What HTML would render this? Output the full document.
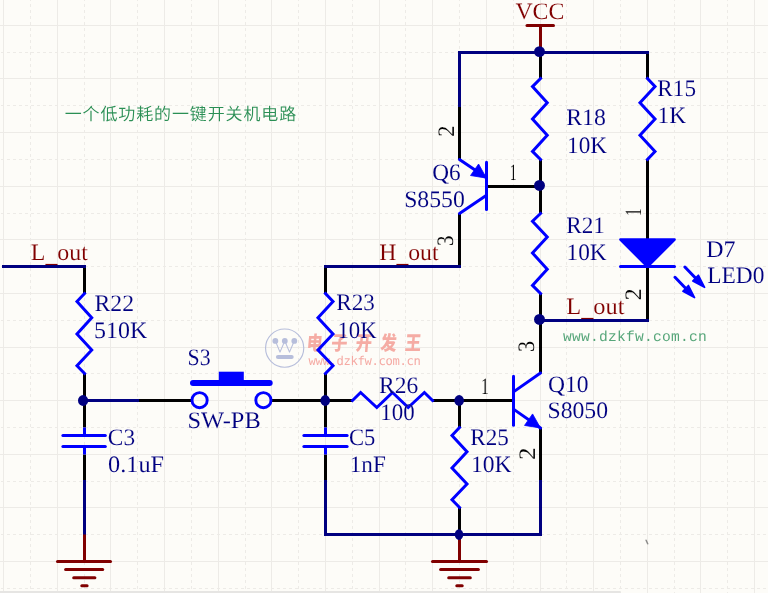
<!DOCTYPE html>
<html lang="zh">
<head>
<meta charset="utf-8">
<title>一个低功耗的一键开关机电路</title>
<style>
html,body{margin:0;padding:0;background:#fdfcf8;}
body{width:768px;height:593px;overflow:hidden;}
svg{display:block;text-rendering:geometricPrecision;font-family:"Liberation Serif","Noto Serif CJK SC",serif;}
</style>
</head>
<body>
<svg width="768" height="593" viewBox="0 0 768 593">
<defs><filter id="soft" filterUnits="userSpaceOnUse" x="0" y="0" width="768" height="593"><feGaussianBlur stdDeviation="0.38"/></filter></defs>
<rect width="768" height="593" fill="#fdfcf8"/>
<g shape-rendering="crispEdges" stroke="#edebe7" stroke-width="1">
<line x1="3.5" y1="0" x2="3.5" y2="593"/>
<line x1="30.5" y1="-2" x2="30.5" y2="593" stroke-dasharray="3 3"/>
<line x1="57.5" y1="0" x2="57.5" y2="593"/>
<line x1="84.5" y1="-2" x2="84.5" y2="593" stroke-dasharray="3 3"/>
<line x1="110.5" y1="0" x2="110.5" y2="593"/>
<line x1="137.5" y1="-2" x2="137.5" y2="593" stroke-dasharray="3 3"/>
<line x1="164.5" y1="0" x2="164.5" y2="593"/>
<line x1="191.5" y1="-2" x2="191.5" y2="593" stroke-dasharray="3 3"/>
<line x1="218.5" y1="0" x2="218.5" y2="593"/>
<line x1="245.5" y1="-2" x2="245.5" y2="593" stroke-dasharray="3 3"/>
<line x1="271.5" y1="0" x2="271.5" y2="593"/>
<line x1="298.5" y1="-2" x2="298.5" y2="593" stroke-dasharray="3 3"/>
<line x1="325.5" y1="0" x2="325.5" y2="593"/>
<line x1="352.5" y1="-2" x2="352.5" y2="593" stroke-dasharray="3 3"/>
<line x1="379.5" y1="0" x2="379.5" y2="593"/>
<line x1="405.5" y1="-2" x2="405.5" y2="593" stroke-dasharray="3 3"/>
<line x1="432.5" y1="0" x2="432.5" y2="593"/>
<line x1="459.5" y1="-2" x2="459.5" y2="593" stroke-dasharray="3 3"/>
<line x1="486.5" y1="0" x2="486.5" y2="593"/>
<line x1="513.5" y1="-2" x2="513.5" y2="593" stroke-dasharray="3 3"/>
<line x1="540.5" y1="0" x2="540.5" y2="593"/>
<line x1="566.5" y1="-2" x2="566.5" y2="593" stroke-dasharray="3 3"/>
<line x1="593.5" y1="0" x2="593.5" y2="593"/>
<line x1="620.5" y1="-2" x2="620.5" y2="593" stroke-dasharray="3 3"/>
<line x1="647.5" y1="0" x2="647.5" y2="593"/>
<line x1="674.5" y1="-2" x2="674.5" y2="593" stroke-dasharray="3 3"/>
<line x1="700.5" y1="0" x2="700.5" y2="593"/>
<line x1="727.5" y1="-2" x2="727.5" y2="593" stroke-dasharray="3 3"/>
<line x1="754.5" y1="0" x2="754.5" y2="593"/>
<line x1="0" y1="25.5" x2="768" y2="25.5"/>
<line x1="1" y1="52.5" x2="768" y2="52.5" stroke-dasharray="3 3"/>
<line x1="0" y1="78.5" x2="768" y2="78.5"/>
<line x1="1" y1="105.5" x2="768" y2="105.5" stroke-dasharray="3 3"/>
<line x1="0" y1="132.5" x2="768" y2="132.5"/>
<line x1="1" y1="159.5" x2="768" y2="159.5" stroke-dasharray="3 3"/>
<line x1="0" y1="186.5" x2="768" y2="186.5"/>
<line x1="1" y1="213.5" x2="768" y2="213.5" stroke-dasharray="3 3"/>
<line x1="0" y1="239.5" x2="768" y2="239.5"/>
<line x1="1" y1="266.5" x2="768" y2="266.5" stroke-dasharray="3 3"/>
<line x1="0" y1="293.5" x2="768" y2="293.5"/>
<line x1="1" y1="320.5" x2="768" y2="320.5" stroke-dasharray="3 3"/>
<line x1="0" y1="347.5" x2="768" y2="347.5"/>
<line x1="1" y1="373.5" x2="768" y2="373.5" stroke-dasharray="3 3"/>
<line x1="0" y1="400.5" x2="768" y2="400.5"/>
<line x1="1" y1="427.5" x2="768" y2="427.5" stroke-dasharray="3 3"/>
<line x1="0" y1="454.5" x2="768" y2="454.5"/>
<line x1="1" y1="481.5" x2="768" y2="481.5" stroke-dasharray="3 3"/>
<line x1="0" y1="507.5" x2="768" y2="507.5"/>
<line x1="1" y1="534.5" x2="768" y2="534.5" stroke-dasharray="3 3"/>
<line x1="0" y1="561.5" x2="768" y2="561.5"/>
<line x1="1" y1="588.5" x2="768" y2="588.5" stroke-dasharray="3 3"/>
</g>
<rect x="0" y="591" width="620.7" height="2" fill="#e6e5e3"/>
<line x1="646.1" y1="540.2" x2="647.7" y2="543.7" stroke="#8c8c8a" stroke-width="1.5" stroke-linecap="round"/>
<g filter="url(#soft)">
<g id="wm">
<circle cx="284.65" cy="348.1" r="19.1" fill="none" stroke="#b7bedb" stroke-width="1.15"/>
<polyline points="275.35,340.9 280,352.1 284.8,340.9 289.5,352.1 294.3,340.9" fill="none" stroke="#b7bedb" stroke-width="1.1" stroke-linejoin="round" stroke-linecap="round"/>
<circle cx="275.35" cy="340.9" r="2.9" fill="#b7bedb"/><circle cx="284.8" cy="340.9" r="2.9" fill="#b7bedb"/><circle cx="294.3" cy="340.9" r="2.9" fill="#b7bedb"/>
<line x1="278.0" y1="357" x2="291.6" y2="357" stroke="#b7bedb" stroke-width="4.2" stroke-linecap="round"/>
<text transform="translate(306.2,349.6) scale(0.92,1.12) skewX(-6)" fill="#f5aca4" font-family="'Liberation Sans','Noto Sans CJK SC',sans-serif" font-weight="900" font-size="17.5" letter-spacing="9.2">电子开发王</text>
<text x="308.6 315.6 322.6 329.6 336.6 343.6 350.5 357.5 364.5 371.5 378.5 385.5 392.5 399.5 406.5 413.5" y="365.3" fill="#f5aaa4" font-family="'DejaVu Sans Mono','Liberation Mono',monospace" font-size="12.2">www.dzkfw.com.cn</text>
</g>
<line x1="84.5" y1="266.5" x2="84.5" y2="293.5" stroke="#000000" stroke-width="3.0" stroke-linecap="butt"/>
<line x1="84.5" y1="373.5" x2="84.5" y2="427.5" stroke="#000000" stroke-width="3.0" stroke-linecap="butt"/>
<line x1="84.5" y1="454.5" x2="84.5" y2="481.5" stroke="#000000" stroke-width="3.0" stroke-linecap="butt"/>
<line x1="137.5" y1="400.5" x2="191.5" y2="400.5" stroke="#000000" stroke-width="3.0" stroke-linecap="butt"/>
<line x1="271.5" y1="400.5" x2="352.5" y2="400.5" stroke="#000000" stroke-width="3.0" stroke-linecap="butt"/>
<line x1="325.5" y1="266.5" x2="325.5" y2="293.5" stroke="#000000" stroke-width="3.0" stroke-linecap="butt"/>
<line x1="325.5" y1="373.5" x2="325.5" y2="427.5" stroke="#000000" stroke-width="3.0" stroke-linecap="butt"/>
<line x1="325.5" y1="454.5" x2="325.5" y2="481.5" stroke="#000000" stroke-width="3.0" stroke-linecap="butt"/>
<line x1="432.5" y1="400.5" x2="513.5" y2="400.5" stroke="#000000" stroke-width="3.0" stroke-linecap="butt"/>
<line x1="459.5" y1="400.5" x2="459.5" y2="427.5" stroke="#000000" stroke-width="3.0" stroke-linecap="butt"/>
<line x1="459.5" y1="507.5" x2="459.5" y2="534.5" stroke="#000000" stroke-width="3.0" stroke-linecap="butt"/>
<line x1="540.5" y1="427.5" x2="540.5" y2="481.5" stroke="#000000" stroke-width="3.0" stroke-linecap="butt"/>
<line x1="540.5" y1="293.5" x2="540.5" y2="373.5" stroke="#000000" stroke-width="3.0" stroke-linecap="butt"/>
<line x1="540.5" y1="159.5" x2="540.5" y2="213.5" stroke="#000000" stroke-width="3.0" stroke-linecap="butt"/>
<line x1="540.5" y1="52.5" x2="540.5" y2="78.5" stroke="#000000" stroke-width="3.0" stroke-linecap="butt"/>
<line x1="486.5" y1="186.5" x2="540.5" y2="186.5" stroke="#000000" stroke-width="3.0" stroke-linecap="butt"/>
<line x1="459.5" y1="105.5" x2="459.5" y2="159.5" stroke="#000000" stroke-width="3.0" stroke-linecap="butt"/>
<line x1="459.5" y1="213.5" x2="459.5" y2="266.5" stroke="#000000" stroke-width="3.0" stroke-linecap="butt"/>
<line x1="647.5" y1="52.5" x2="647.5" y2="78.5" stroke="#000000" stroke-width="3.0" stroke-linecap="butt"/>
<line x1="647.5" y1="159.5" x2="647.5" y2="239.5" stroke="#000000" stroke-width="3.0" stroke-linecap="butt"/>
<line x1="647.5" y1="266.5" x2="647.5" y2="320.5" stroke="#000000" stroke-width="3.0" stroke-linecap="butt"/>
<polyline points="3.5,266.5 84.5,266.5" fill="none" stroke="#000080" stroke-width="3.0" stroke-linejoin="miter" stroke-linecap="square"/>
<polyline points="84.5,400.5 137.5,400.5" fill="none" stroke="#000080" stroke-width="3.0" stroke-linejoin="miter" stroke-linecap="square"/>
<polyline points="84.5,481.5 84.5,534.5" fill="none" stroke="#000080" stroke-width="3.0" stroke-linejoin="miter" stroke-linecap="square"/>
<polyline points="325.5,266.5 459.5,266.5" fill="none" stroke="#000080" stroke-width="3.0" stroke-linejoin="miter" stroke-linecap="square"/>
<polyline points="325.5,481.5 325.5,534.5 540.5,534.5 540.5,481.5" fill="none" stroke="#000080" stroke-width="3.0" stroke-linejoin="miter" stroke-linecap="square"/>
<polyline points="459.5,105.5 459.5,52.5 647.5,52.5" fill="none" stroke="#000080" stroke-width="3.0" stroke-linejoin="miter" stroke-linecap="square"/>
<polyline points="540.5,320.5 647.5,320.5" fill="none" stroke="#000080" stroke-width="3.0" stroke-linejoin="miter" stroke-linecap="square"/>
<polyline points="84.5,293.5 76.99,301.6 91.73,317.8 76.99,334.0 91.73,350.1 76.99,365.7 84.5,373.5" fill="none" stroke="#0000ff" stroke-width="3.0" stroke-linejoin="miter" stroke-linecap="square"/>
<polyline points="325.5,293.5 333.01,301.6 317.99,317.8 333.01,334.0 317.99,350.1 333.01,365.7 325.5,373.5" fill="none" stroke="#0000ff" stroke-width="3.0" stroke-linejoin="miter" stroke-linecap="square"/>
<polyline points="459.5,427.5 451.99,435.6 467.01,451.8 451.99,468.0 467.01,484.1 451.99,499.7 459.5,507.5" fill="none" stroke="#0000ff" stroke-width="3.0" stroke-linejoin="miter" stroke-linecap="square"/>
<polyline points="540.5,78.5 532.49,86.6 547.24,102.8 532.49,119.0 547.24,135.2 532.49,151.4 540.5,159.5" fill="none" stroke="#0000ff" stroke-width="3.0" stroke-linejoin="miter" stroke-linecap="square"/>
<polyline points="540.5,213.5 532.49,221.3 547.24,236.9 532.49,253.0 547.24,269.2 532.49,285.4 540.5,293.5" fill="none" stroke="#0000ff" stroke-width="3.0" stroke-linejoin="miter" stroke-linecap="square"/>
<polyline points="647.5,78.5 655.01,86.6 639.99,102.8 655.01,119.0 639.99,135.2 655.01,151.4 647.5,159.5" fill="none" stroke="#0000ff" stroke-width="3.0" stroke-linejoin="miter" stroke-linecap="square"/>
<polyline points="352.5,400.5 360.6,392.49 376.8,407.5 392.5,392.49 408.2,407.5 424.4,392.49 432.5,400.5" fill="none" stroke="#0000ff" stroke-width="3.0" stroke-linejoin="miter" stroke-linecap="square"/>
<line x1="84.5" y1="427.5" x2="84.5" y2="435.6" stroke="#0000ff" stroke-width="3.0" stroke-linecap="butt"/>
<line x1="84.5" y1="446.4" x2="84.5" y2="454.5" stroke="#0000ff" stroke-width="3.0" stroke-linecap="butt"/>
<line x1="62.9" y1="435.6" x2="105.3" y2="435.6" stroke="#0000ff" stroke-width="3.0" stroke-linecap="round"/>
<line x1="62.9" y1="446.4" x2="105.3" y2="446.4" stroke="#0000ff" stroke-width="3.0" stroke-linecap="round"/>
<line x1="325.5" y1="427.5" x2="325.5" y2="435.6" stroke="#0000ff" stroke-width="3.0" stroke-linecap="butt"/>
<line x1="325.5" y1="446.4" x2="325.5" y2="454.5" stroke="#0000ff" stroke-width="3.0" stroke-linecap="butt"/>
<line x1="303.9" y1="435.6" x2="347.1" y2="435.6" stroke="#0000ff" stroke-width="3.0" stroke-linecap="round"/>
<line x1="303.9" y1="446.4" x2="347.1" y2="446.4" stroke="#0000ff" stroke-width="3.0" stroke-linecap="round"/>
<circle cx="199.6" cy="400.2" r="7.6" fill="none" stroke="#0000ff" stroke-width="2.9"/>
<circle cx="263.4" cy="400.2" r="7.6" fill="none" stroke="#0000ff" stroke-width="2.9"/>
<line x1="193" y1="383" x2="269.7" y2="383" stroke="#0000ff" stroke-width="6" stroke-linecap="round"/>
<rect x="218.8" y="371.7" width="25" height="10" fill="#0000ff"/>
<line x1="513.5" y1="376.2" x2="513.5" y2="425.34" stroke="#0000ff" stroke-width="3.0" stroke-linecap="round"/>
<polyline points="513.5,391.86 540.5,372.98" fill="none" stroke="#0000ff" stroke-width="3.0" stroke-linejoin="miter" stroke-linecap="round"/>
<polyline points="513.5,409.14 540.5,428.04" fill="none" stroke="#0000ff" stroke-width="3.0" stroke-linejoin="miter" stroke-linecap="round"/>
<polygon points="540.5,428.04 524.53,425.43 532.58,413.93" fill="#0000ff" stroke="#0000ff" stroke-width="0.8" stroke-linejoin="round"/>
<line x1="486.5" y1="162.2" x2="486.5" y2="209.45" stroke="#0000ff" stroke-width="3.0" stroke-linecap="round"/>
<polyline points="459.5,159.5 486.5,177.86" fill="none" stroke="#0000ff" stroke-width="3.0" stroke-linejoin="miter" stroke-linecap="round"/>
<polyline points="486.5,195.14 459.5,213.5" fill="none" stroke="#0000ff" stroke-width="3.0" stroke-linejoin="miter" stroke-linecap="round"/>
<polygon points="486.5,178.13 470.53,175.52 478.58,164.02" fill="#0000ff" stroke="#0000ff" stroke-width="0.8" stroke-linejoin="round"/>
<polygon points="620.5,239.5 674.5,239.5 647.5,266.5" fill="#0000ff" stroke="#0000ff" stroke-width="2.7" stroke-linejoin="round"/>
<line x1="620.5" y1="266.5" x2="674.5" y2="266.5" stroke="#0000ff" stroke-width="3.0" stroke-linecap="round"/>
<polyline points="684.9,267.04 700.5,283.24" fill="none" stroke="#0000ff" stroke-width="3.0" stroke-linejoin="miter" stroke-linecap="round"/>
<polyline points="675.02,277.3 690.62,293.5" fill="none" stroke="#0000ff" stroke-width="3.0" stroke-linejoin="miter" stroke-linecap="round"/>
<polygon points="704.55,287.29 692.82,280.99 698.33,275.26" fill="#0000ff" stroke="#0000ff" stroke-width="1.7" stroke-linejoin="round"/>
<polygon points="694.52,297.55 682.94,291.25 688.45,285.52" fill="#0000ff" stroke="#0000ff" stroke-width="1.7" stroke-linejoin="round"/>
<line x1="84.5" y1="534.5" x2="84.5" y2="561.5" stroke="#800000" stroke-width="3.0" stroke-linecap="butt"/>
<line x1="57.5" y1="561.5" x2="110.5" y2="561.5" stroke="#800000" stroke-width="3.0" stroke-linecap="round"/>
<line x1="65.6" y1="569.6" x2="102.7" y2="569.6" stroke="#800000" stroke-width="3.0" stroke-linecap="round"/>
<line x1="73.7" y1="577.7" x2="94.9" y2="577.7" stroke="#800000" stroke-width="3.0" stroke-linecap="round"/>
<line x1="81.8" y1="585.8" x2="87.1" y2="585.8" stroke="#800000" stroke-width="3.0" stroke-linecap="round"/>
<line x1="459.5" y1="534.5" x2="459.5" y2="561.5" stroke="#800000" stroke-width="3.0" stroke-linecap="butt"/>
<line x1="432.5" y1="561.5" x2="486.5" y2="561.5" stroke="#800000" stroke-width="3.0" stroke-linecap="round"/>
<line x1="440.6" y1="569.6" x2="478.4" y2="569.6" stroke="#800000" stroke-width="3.0" stroke-linecap="round"/>
<line x1="448.7" y1="577.7" x2="470.3" y2="577.7" stroke="#800000" stroke-width="3.0" stroke-linecap="round"/>
<line x1="456.8" y1="585.8" x2="462.2" y2="585.8" stroke="#800000" stroke-width="3.0" stroke-linecap="round"/>
<line x1="540.5" y1="52.5" x2="540.5" y2="25.5" stroke="#800000" stroke-width="3.0" stroke-linecap="butt"/>
<line x1="527.0" y1="25.5" x2="553.5" y2="25.5" stroke="#800000" stroke-width="3.0" stroke-linecap="round"/>
<ellipse cx="83.10" cy="400.50" rx="5.1" ry="5.4" fill="#000080"/>
<ellipse cx="325.20" cy="400.50" rx="4.8" ry="5.4" fill="#000080"/>
<ellipse cx="459.15" cy="400.45" rx="4.8" ry="5.4" fill="#000080"/>
<ellipse cx="459.00" cy="534.55" rx="4.2" ry="5.4" fill="#000080"/>
<ellipse cx="539.50" cy="319.45" rx="5.45" ry="5.45" fill="#000080"/>
<ellipse cx="539.50" cy="185.45" rx="5.45" ry="5.45" fill="#000080"/>
<ellipse cx="539.50" cy="51.60" rx="5.45" ry="5.45" fill="#000080"/>
<text transform="translate(30.83,259.8) scale(1.0123,1)" fill="#800000" stroke="#fdfcf8" stroke-width="0.1" font-size="23.6">L<tspan dy="2.2">_</tspan><tspan dy="-2.2">out</tspan></text>
<text transform="translate(379.24,260) scale(1.0056,1)" fill="#800000" stroke="#fdfcf8" stroke-width="0.1" font-size="23.6">H<tspan dy="2.2">_</tspan><tspan dy="-2.2">out</tspan></text>
<text transform="translate(566.22,313.5) scale(1.0339,1)" fill="#800000" stroke="#fdfcf8" stroke-width="0.1" font-size="23.6">L<tspan dy="2.2">_</tspan><tspan dy="-2.2">out</tspan></text>
<text transform="translate(515.41,19.3) scale(1.0101,1)" fill="#800000" stroke="#fdfcf8" stroke-width="0.1" font-size="23.6">VCC</text>
<text transform="translate(94.54,310.7) scale(1.0041,1)" fill="#000080" stroke="#fdfcf8" stroke-width="0.1" font-size="23.6">R22</text>
<text transform="translate(94.07,338.0) scale(1.0146,1)" fill="#000080" stroke="#fdfcf8" stroke-width="0.1" font-size="23.6">510K</text>
<text transform="translate(107.82,445) scale(0.9897,1)" fill="#000080" stroke="#fdfcf8" stroke-width="0.1" font-size="23.6">C3</text>
<text transform="translate(108.09,471.8) scale(1.0297,1)" fill="#000080" stroke="#fdfcf8" stroke-width="0.1" font-size="23.6">0.1uF</text>
<text transform="translate(187.58,364.7) scale(0.9257,1)" fill="#000080" stroke="#fdfcf8" stroke-width="0.1" font-size="23.6">S3</text>
<text transform="translate(187.40,428.3) scale(1.0355,1)" fill="#000080" stroke="#fdfcf8" stroke-width="0.1" font-size="23.6">SW-PB</text>
<text transform="translate(336.26,310.3) scale(0.9814,1)" fill="#000080" stroke="#fdfcf8" stroke-width="0.1" font-size="23.6">R23</text>
<text transform="translate(337.46,337.5) scale(0.9648,1)" fill="#000080" stroke="#fdfcf8" stroke-width="0.1" font-size="23.6">10K</text>
<text transform="translate(349.10,445) scale(0.9546,1)" fill="#000080" stroke="#fdfcf8" stroke-width="0.1" font-size="23.6">C5</text>
<text transform="translate(349.72,471.5) scale(0.9820,1)" fill="#000080" stroke="#fdfcf8" stroke-width="0.1" font-size="23.6">1nF</text>
<text transform="translate(379.04,393.3) scale(0.9964,1)" fill="#000080" stroke="#fdfcf8" stroke-width="0.1" font-size="23.6">R26</text>
<text transform="translate(380.25,420) scale(0.9707,1)" fill="#000080" stroke="#fdfcf8" stroke-width="0.1" font-size="23.6">100</text>
<text transform="translate(470.36,444.7) scale(0.9788,1)" fill="#000080" stroke="#fdfcf8" stroke-width="0.1" font-size="23.6">R25</text>
<text transform="translate(470.89,471.7) scale(0.9987,1)" fill="#000080" stroke="#fdfcf8" stroke-width="0.1" font-size="23.6">10K</text>
<text transform="translate(548.01,391.9) scale(0.9994,1)" fill="#000080" stroke="#fdfcf8" stroke-width="0.1" font-size="23.6">Q10</text>
<text transform="translate(547.45,417.8) scale(1.0048,1)" fill="#000080" stroke="#fdfcf8" stroke-width="0.1" font-size="23.6">S8050</text>
<text transform="translate(432.32,179.5) scale(0.9853,1)" fill="#000080" stroke="#fdfcf8" stroke-width="0.1" font-size="23.6">Q6</text>
<text transform="translate(404.15,206.7) scale(1.0066,1)" fill="#000080" stroke="#fdfcf8" stroke-width="0.1" font-size="23.6">S8550</text>
<text transform="translate(566.24,125.3) scale(1.0090,1)" fill="#000080" stroke="#fdfcf8" stroke-width="0.1" font-size="23.6">R18</text>
<text transform="translate(567.12,152.5) scale(0.9831,1)" fill="#000080" stroke="#fdfcf8" stroke-width="0.1" font-size="23.6">10K</text>
<text transform="translate(566.26,232.5) scale(0.9804,1)" fill="#000080" stroke="#fdfcf8" stroke-width="0.1" font-size="23.6">R21</text>
<text transform="translate(566.51,260) scale(0.9883,1)" fill="#000080" stroke="#fdfcf8" stroke-width="0.1" font-size="23.6">10K</text>
<text transform="translate(657.36,96.3) scale(0.9814,1)" fill="#000080" stroke="#fdfcf8" stroke-width="0.1" font-size="23.6">R15</text>
<text transform="translate(657.60,122.5) scale(0.9906,1)" fill="#000080" stroke="#fdfcf8" stroke-width="0.1" font-size="23.6">1K</text>
<text transform="translate(706.23,256.7) scale(1.0133,1)" fill="#000080" stroke="#fdfcf8" stroke-width="0.1" font-size="23.6">D7</text>
<text transform="translate(707.25,283.3) scale(0.9909,1)" fill="#000080" stroke="#fdfcf8" stroke-width="0.1" font-size="23.6">LED0</text>
<text transform="translate(509.83,179.7) scale(0.5890,1)" fill="#000000" stroke="#fdfcf8" stroke-width="0.1" font-size="23.6">1</text>
<text transform="translate(481.06,393.8) scale(0.6732,1)" fill="#000000" stroke="#fdfcf8" stroke-width="0.1" font-size="23.6">1</text>
<text transform="translate(453.7,136.82) rotate(-90) scale(0.9640,1)" fill="#000000" stroke="#fdfcf8" stroke-width="0.1" font-size="23.6">2</text>
<text transform="translate(453.0,245.90) rotate(-90) scale(0.8937,1)" fill="#000000" stroke="#fdfcf8" stroke-width="0.1" font-size="23.6">3</text>
<text transform="translate(534.2,352.06) rotate(-90) scale(0.9450,1)" fill="#000000" stroke="#fdfcf8" stroke-width="0.1" font-size="23.6">3</text>
<text transform="translate(534.7,460.12) rotate(-90) scale(1.0593,1)" fill="#000000" stroke="#fdfcf8" stroke-width="0.1" font-size="23.6">2</text>
<text transform="translate(640.8,216.07) rotate(-90) scale(0.6611,1)" fill="#000000" stroke="#fdfcf8" stroke-width="0.1" font-size="23.6">1</text>
<text transform="translate(641.0,300.37) rotate(-90) scale(1.0064,1)" fill="#000000" stroke="#fdfcf8" stroke-width="0.1" font-size="23.6">2</text>
<text x="64.7" y="120.4" fill="#2c8f55" font-family="'Liberation Sans','Noto Sans CJK SC',sans-serif" font-weight="350" font-size="17" letter-spacing="0.88">一个低功耗的一键开关机电路</text>
<text x="563.0 572.0 581.0 590.0 599.0 608.0 617.0 626.0 635.0 644.0 653.0 662.0 671.0 680.0 689.0 698.0" y="341" fill="#57a67a" font-family="'Liberation Mono',monospace" font-size="14.6">www.dzkfw.com.cn</text>
</g>
</svg>
</body>
</html>
